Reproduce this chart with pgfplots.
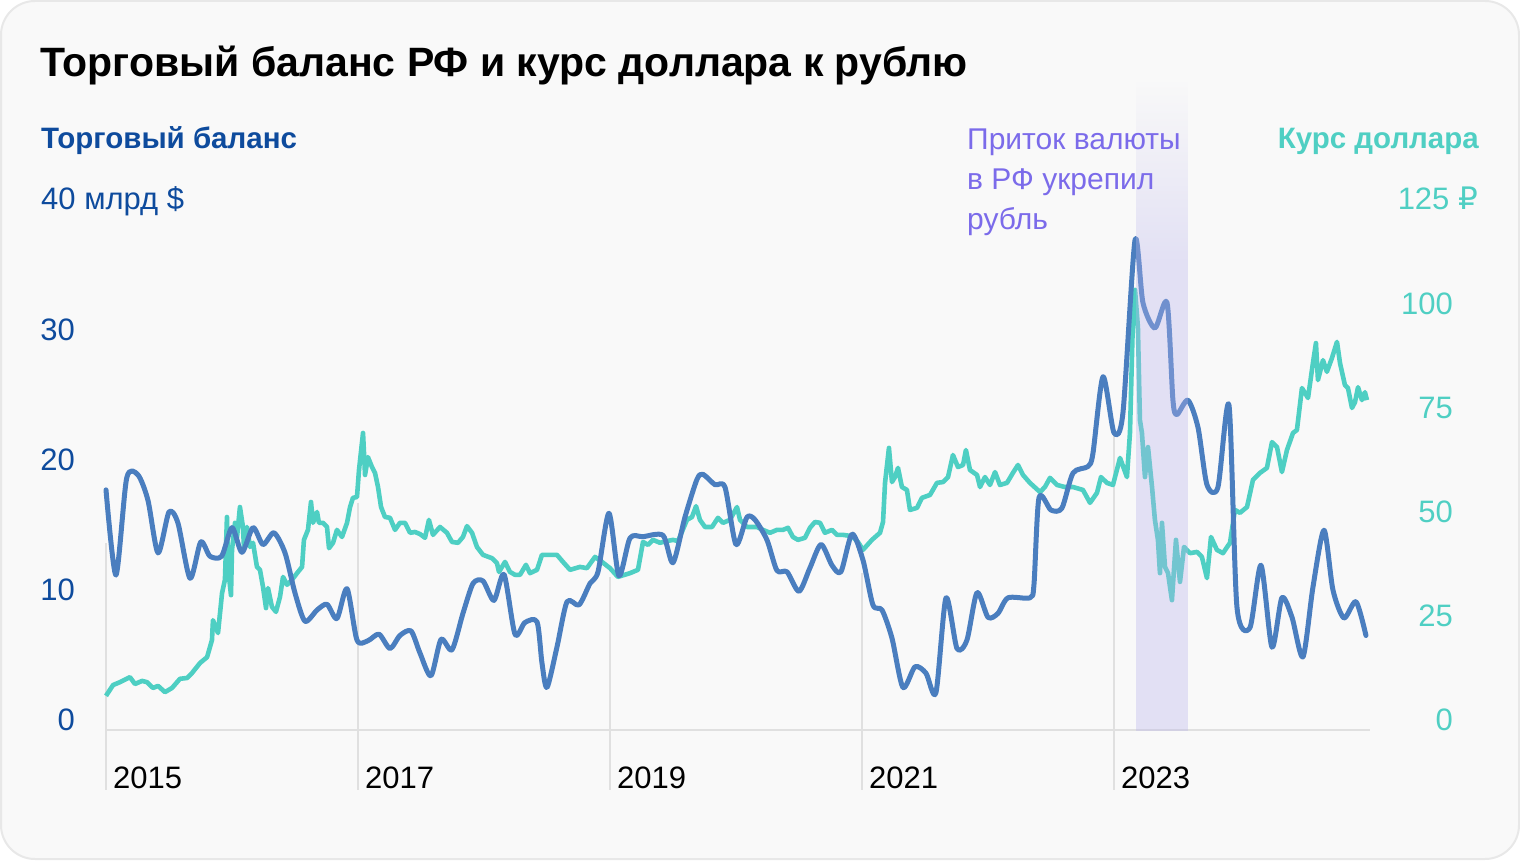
\documentclass[border=0pt]{standalone}
\usepackage{fontspec}
\setmainfont{Liberation Sans}
\newfontfamily\rubfont{DejaVu Sans}
\usepackage{pgfplots}
\pgfplotsset{compat=1.18}
\usepackage{pgfplotstable}
\definecolor{cardbg}{HTML}{F9F9F9}
\definecolor{cardborder}{HTML}{E8E8E8}
\definecolor{darkblue}{HTML}{0E4B9D}
\definecolor{tealtext}{HTML}{4FCFC3}
\definecolor{tealline}{HTML}{4ECFC3}
\definecolor{blueline}{HTML}{4A7EBF}
\definecolor{purpletext}{HTML}{7B6BEA}
\definecolor{bandc}{HTML}{B8B3EB}
\definecolor{gridc}{HTML}{E0E0E0}
\pgfdeclareverticalshading{bandshade}{100bp}{color(0bp)=(bandc); color(25bp)=(bandc); color(61bp)=(bandc); color(75bp)=(cardbg); color(100bp)=(cardbg)}

\pgfplotstableread{
x y
2015.000 17.7
2015.079 11.15
2015.164 18.6
2015.254 18.85
2015.333 16.9
2015.413 12.85
2015.500 16.0
2015.571 15.15
2015.667 10.9
2015.752 13.7
2015.825 12.6
2015.918 12.6
2016.000 14.8
2016.079 12.9
2016.167 14.8
2016.246 13.5
2016.333 14.4
2016.421 12.85
2016.500 9.77
2016.579 7.6
2016.675 8.46
2016.754 8.9
2016.833 7.8
2016.913 10.1
2016.992 6.15
2017.079 6.1
2017.167 6.6
2017.254 5.5
2017.333 6.5
2017.421 6.85
2017.492 5.15
2017.579 3.4
2017.659 6.2
2017.746 5.4
2017.833 8.2
2017.913 10.5
2017.992 10.7
2018.079 9.2
2018.159 11.2
2018.246 6.6
2018.325 7.5
2018.421 7.55
2018.460 4.4
2018.500 2.5
2018.579 5.6
2018.659 9.1
2018.754 8.85
2018.841 10.5
2018.905 11.4
2018.992 15.9
2019.071 11.1
2019.159 14.0
2019.262 14.1
2019.421 14.2
2019.500 12.1
2019.595 15.6
2019.690 18.5
2019.738 18.9
2019.833 18.1
2019.913 17.9
2020.000 13.5
2020.087 15.6
2020.151 15.4
2020.246 13.85
2020.325 11.5
2020.405 11.4
2020.500 9.9
2020.587 11.7
2020.675 13.5
2020.762 11.9
2020.833 11.4
2020.921 14.3
2021.008 12.3
2021.087 8.85
2021.159 8.46
2021.238 6.3
2021.325 2.5
2021.421 4.1
2021.508 3.6
2021.587 2.1
2021.667 9.4
2021.754 5.5
2021.833 6.15
2021.913 9.8
2022.000 7.9
2022.079 8.2
2022.159 9.4
2022.333 9.4
2022.365 10.4
2022.405 17.1
2022.500 16.15
2022.587 16.3
2022.675 19.0
2022.794 19.5
2022.833 20.5
2022.913 26.4
2023.000 22.1
2023.071 23.6
2023.167 36.9
2023.230 32.1
2023.325 30.15
2023.421 32.1
2023.468 24.6
2023.500 23.5
2023.587 24.6
2023.667 22.5
2023.738 18.1
2023.825 17.9
2023.913 24.2
2023.976 8.7
2024.079 7.1
2024.167 11.9
2024.254 5.6
2024.333 9.4
2024.413 7.9
2024.500 4.85
2024.579 10.2
2024.667 14.6
2024.738 10.0
2024.825 7.85
2024.921 9.1
2025.000 6.5
}\tradetab

\pgfplotstableread{
x y
2015.000 5.8
2015.056 8.4
2015.111 9.1
2015.190 10.3
2015.230 8.65
2015.286 9.4
2015.325 9.1
2015.373 7.7
2015.413 8.2
2015.468 6.7
2015.524 7.7
2015.587 9.9
2015.643 10.1
2015.683 11.3
2015.746 13.7
2015.802 15.1
2015.841 19.2
2015.849 24.0
2015.889 20.9
2015.921 30.5
2015.944 33.7
2015.960 48.8
2015.968 36.8
2015.992 30.0
2016.000 40.9
2016.024 47.4
2016.040 44.0
2016.063 51.2
2016.087 46.4
2016.095 41.6
2016.119 46.4
2016.143 41.6
2016.167 42.6
2016.198 36.8
2016.222 36.1
2016.246 32.0
2016.270 26.9
2016.286 31.7
2016.317 27.2
2016.349 26.0
2016.381 29.6
2016.405 34.4
2016.437 32.5
2016.476 33.7
2016.524 35.6
2016.556 36.8
2016.571 43.3
2016.603 45.7
2016.627 52.4
2016.643 47.4
2016.675 50.0
2016.690 47.4
2016.722 47.4
2016.754 46.4
2016.770 41.3
2016.802 42.6
2016.833 45.7
2016.873 44.0
2016.913 47.4
2016.937 51.2
2016.960 53.4
2016.992 53.6
2017.008 60.1
2017.040 69.0
2017.056 58.9
2017.079 63.2
2017.111 60.8
2017.135 59.4
2017.159 56.0
2017.183 51.2
2017.214 48.8
2017.254 48.6
2017.294 45.7
2017.333 47.4
2017.373 47.4
2017.413 45.0
2017.452 45.2
2017.492 44.7
2017.532 43.8
2017.563 48.1
2017.595 44.5
2017.651 46.4
2017.706 45.0
2017.746 42.8
2017.794 42.6
2017.833 44.0
2017.865 46.6
2017.905 45.0
2017.944 41.6
2017.992 39.7
2018.063 38.9
2018.103 37.7
2018.119 35.6
2018.167 38.0
2018.206 35.6
2018.246 34.9
2018.286 34.9
2018.333 37.3
2018.365 35.3
2018.421 36.1
2018.460 39.7
2018.508 39.7
2018.579 39.7
2018.627 38.0
2018.683 36.1
2018.762 36.8
2018.817 36.5
2018.881 39.2
2018.937 38.0
2019.000 36.5
2019.063 34.4
2019.159 35.3
2019.222 36.1
2019.262 42.8
2019.302 42.1
2019.341 43.3
2019.397 42.6
2019.452 43.0
2019.500 43.3
2019.540 43.0
2019.611 48.1
2019.651 48.8
2019.683 51.4
2019.714 48.1
2019.754 46.4
2019.810 46.4
2019.857 48.6
2019.897 47.4
2019.952 48.1
2020.008 51.2
2020.032 48.1
2020.087 46.4
2020.167 46.4
2020.214 45.7
2020.270 45.0
2020.325 45.7
2020.373 45.7
2020.413 46.2
2020.452 44.0
2020.492 43.3
2020.548 43.8
2020.587 46.2
2020.627 47.6
2020.667 47.4
2020.706 45.0
2020.762 45.7
2020.802 44.5
2020.849 44.5
2020.921 44.2
2020.968 42.8
2021.008 40.9
2021.079 43.3
2021.143 45.0
2021.167 47.6
2021.183 57.0
2021.214 65.4
2021.238 57.2
2021.262 58.4
2021.286 60.6
2021.317 56.0
2021.357 55.3
2021.381 50.5
2021.437 51.0
2021.476 53.4
2021.540 54.1
2021.595 57.0
2021.643 57.2
2021.683 58.4
2021.722 63.7
2021.762 60.8
2021.802 61.3
2021.825 64.9
2021.857 60.1
2021.913 58.9
2021.937 56.0
2021.976 58.4
2022.016 56.5
2022.056 59.6
2022.095 56.5
2022.151 57.0
2022.198 59.4
2022.238 61.3
2022.278 58.9
2022.333 57.0
2022.413 54.8
2022.452 56.0
2022.492 58.2
2022.548 56.5
2022.611 56.0
2022.675 56.0
2022.754 55.3
2022.810 52.2
2022.865 54.6
2022.897 58.4
2022.944 57.0
2022.992 56.5
2023.048 63.0
2023.103 58.4
2023.127 69.0
2023.151 96.9
2023.167 103.4
2023.190 94.5
2023.206 72.1
2023.222 69.0
2023.246 58.4
2023.270 65.6
2023.302 56.0
2023.325 48.1
2023.349 43.3
2023.365 35.3
2023.381 47.4
2023.405 36.8
2023.429 35.3
2023.460 28.8
2023.492 43.3
2023.524 33.2
2023.556 41.6
2023.603 40.1
2023.659 40.4
2023.698 39.2
2023.738 34.1
2023.770 44.0
2023.817 40.9
2023.865 40.1
2023.921 42.6
2023.960 50.5
2024.000 49.8
2024.056 51.2
2024.103 57.7
2024.159 59.4
2024.214 60.6
2024.254 66.8
2024.294 65.6
2024.333 59.6
2024.373 64.9
2024.421 69.0
2024.452 69.7
2024.492 79.8
2024.540 77.4
2024.579 85.8
2024.603 90.6
2024.619 81.7
2024.659 86.5
2024.690 83.7
2024.730 87.0
2024.770 90.9
2024.794 85.8
2024.833 80.5
2024.857 79.8
2024.889 75.0
2024.913 76.4
2024.937 80.0
2024.968 76.9
2024.992 78.8
2025.008 76.9
}\rubtab

\begin{document}
\begin{tikzpicture}
\path[fill=white] (0pt,0pt) rectangle (1520pt,860pt);
\draw[draw=cardborder, line width=2pt, fill=cardbg, rounded corners=34pt] (1pt,1pt) rectangle (1519pt,859pt);

% right axis: dollar rate
\begin{axis}[
  at={(106pt,130pt)}, anchor=south west, scale only axis,
  width=1264pt, height=530pt,
  xmin=2015, xmax=2025.032, ymin=-2.404, ymax=125,
  axis y line*=right, axis x line=none,
  axis line style={draw=none},
  major tick length=0pt,
  xtick=\empty,
  ytick={0,25,50,75,100},
  yticklabels={0,25,50,75,100},
  /pgf/number format/assume math mode=true,
  yticklabel style={anchor=east, xshift=83pt, inner sep=0pt, text=tealtext, font=\fontsize{31}{31}\selectfont},
  clip=false,
]
\foreach \xx/\yy in {2015/42.5, 2017/52.2, 2019/34.4, 2021/35.3, 2023/69.0}{
  \edef\tmp{\noexpand\draw[gridc, line width=1.6pt] (axis cs:\xx,\yy) -- (axis cs:\xx,-16.8);}\tmp
}
\draw[gridc, line width=2pt] (axis cs:2015,-2.404) -- (axis cs:2025.032,-2.404);
\addplot[tealline, line width=4.6pt, line join=round, mark=none] table {\rubtab};
\end{axis}

% left axis: trade balance
\begin{axis}[
  at={(106pt,130pt)}, anchor=south west, scale only axis,
  width=1264pt, height=530pt,
  xmin=2015, xmax=2025.032, ymin=-0.769, ymax=40,
  axis y line*=left, axis x line*=bottom,
  axis line style={draw=none},
  major tick length=0pt,
  xtick={2015,2017,2019,2021,2023},
  xticklabels={2015,2017,2019,2021,2023},
  ytick={0,10,20,30},
  yticklabels={0,10,20,30},
  /pgf/number format/assume math mode=true,
  yticklabel style={anchor=east, xshift=-31pt, inner sep=0pt, text=darkblue, font=\fontsize{31}{31}\selectfont},
  xticklabel style={anchor=north west, xshift=7pt, yshift=-37pt, inner sep=0pt, text=black, font=\fontsize{31}{31}\selectfont},
  clip=false,
]
\addplot[blueline, line width=5pt, smooth, tension=0.45, line join=round, line cap=round, mark=none] table {\tradetab};
\path[shading=bandshade, fill opacity=0.35] (axis cs:2023.175,-0.769) rectangle (axis cs:2023.587,49.2);
\end{axis}

\node[anchor=base west, inner sep=0pt, font=\bfseries\fontsize{41}{41}\selectfont] at (40pt,783pt) {Торговый баланс РФ и курс доллара к рублю};
\node[anchor=base west, inner sep=0pt, text=darkblue, font=\bfseries\fontsize{29.5}{30}\selectfont] at (41pt,711pt) {Торговый баланс};
\node[anchor=base east, inner sep=0pt, text=tealtext, font=\bfseries\fontsize{29.5}{30}\selectfont] at (1479pt,711pt) {Курс доллара};
\node[anchor=base west, inner sep=0pt, text=darkblue, font=\fontsize{31}{31}\selectfont] at (41pt,650pt) {40 млрд \$};
\node[anchor=base east, inner sep=0pt, text=tealtext, font=\fontsize{31}{31}\selectfont] at (1478pt,650pt) {125 {\rubfont ₽}};
\node[anchor=base west, inner sep=0pt, text=purpletext, font=\fontsize{30}{30}\selectfont] at (967pt,710pt) {Приток валюты};
\node[anchor=base west, inner sep=0pt, text=purpletext, font=\fontsize{30}{30}\selectfont] at (967pt,670pt) {в РФ укрепил};
\node[anchor=base west, inner sep=0pt, text=purpletext, font=\fontsize{30}{30}\selectfont] at (967pt,630pt) {рубль};

\pgfresetboundingbox
\path (0pt,0pt) rectangle (1520pt,860pt);
\end{tikzpicture}
\end{document}
